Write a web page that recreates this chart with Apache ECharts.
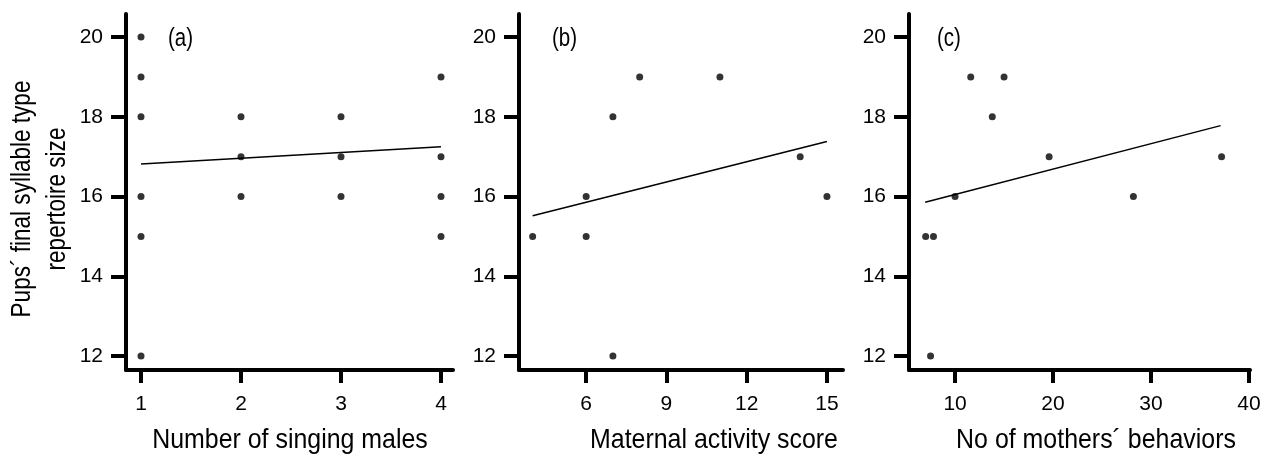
<!DOCTYPE html>
<html>
<head>
<meta charset="utf-8">
<script src="https://cdn.jsdelivr.net/npm/echarts@6/dist/echarts.min.js"></script>
<style>html,body{margin:0;padding:0;background:#fff}#c{width:1274px;height:458px}</style>
</head>
<body>
<div id="c"></div>
<script>
// ---- data ----
const yTicks = [12, 14, 16, 18, 20];
const aTicks = [1, 2, 3, 4];
const bTicks = [6, 9, 12, 15];
const cTicks = [10, 20, 30, 40];

const aX = [1, 1, 1, 1, 1, 1, 2, 2, 2, 3, 3, 3, 4, 4, 4, 4];
const aY = [20, 19, 18, 16, 15, 12, 18, 17, 16, 18, 17, 16, 19, 17, 16, 15];
const aFitX = [1, 4];
const aFitY = [16.82, 17.25];

const bX = [4, 6, 6, 7, 7, 8, 11, 14, 15];
const bY = [15, 16, 15, 18, 12, 19, 19, 17, 16];
const bFitX = [4, 15];
const bFitY = [15.52, 17.38];

const cX = [7, 7.8, 7.5, 10, 11.6, 13.8, 15, 19.6, 28.2, 37.2];
const cY = [15, 15, 12, 16, 19, 18, 19, 17, 16, 17];
const cFitX = [6.95, 37.1];
const cFitY = [15.86, 17.78];

const xNames = ['Number of singing males', 'Maternal activity score', 'No of mothers\u00b4 behaviors'];
const panelLabels = ['(a)', '(b)', '(c)'];
const yNameLines = ['Pups\u00b4 final syllable type', 'repertoire size'];

// ---- chart ----
const FONT = '"Liberation Sans", Arial, sans-serif';
const NARROW = 0.82;
const zip = (xs, ys) => xs.map((x, i) => [x, ys[i]]);

const grids = [
  { left: 126, top: 14, width: 327, height: 356 },
  { left: 519, top: 14, width: 324, height: 356 },
  { left: 909, top: 14, width: 341, height: 356 }
];
const xRanges = [[0.85, 4.12], [3.49, 15.6], [5.3, 40.1]];
const xTickSets = [aTicks, bTicks, cTicks];

const axisLine = { show: true, lineStyle: { color: '#000', width: 4 } };

const xAxis = grids.map((g, i) => ({
  type: 'value', gridIndex: i, min: xRanges[i][0], max: xRanges[i][1],
  axisLine: axisLine,
  axisTick: { show: true, length: 13, lineStyle: { color: '#000', width: 4 }, customValues: xTickSets[i] },
  axisLabel: { customValues: xTickSets[i], color: '#000', fontFamily: FONT, fontSize: 21, margin: 24 },
  splitLine: { show: false }
}));
const yAxis = grids.map((g, i) => ({
  type: 'value', gridIndex: i, min: 11.65, max: 20.58,
  axisLine: axisLine,
  axisTick: { show: true, length: 15, lineStyle: { color: '#000', width: 4 }, customValues: yTicks },
  axisLabel: { customValues: yTicks, color: '#000', fontFamily: FONT, fontSize: 21, margin: 23 },
  splitLine: { show: false }
}));

const scatters = [zip(aX, aY), zip(bX, bY), zip(cX, cY)];
const fits = [zip(aFitX, aFitY), zip(bFitX, bFitY), zip(cFitX, cFitY)];
const series = [];
scatters.forEach((d, i) => {
  series.push({ type: 'line', xAxisIndex: i, yAxisIndex: i, data: fits[i], symbol: 'none',
    lineStyle: { color: '#000', width: 1.5 }, silent: true, animation: false });
  series.push({ type: 'scatter', xAxisIndex: i, yAxisIndex: i, data: d, symbolSize: 7,
    itemStyle: { color: '#000' }, silent: true, animation: false });
});

const nameCenters = [290, 714, 1096];
const labelPos = [[168, 39], [552, 39], [937, 39]];
const graphic = [];
xNames.forEach((t, i) => graphic.push({ type: 'text', x: nameCenters[i], y: 440, scaleX: 0.89,
  style: { text: t, font: '28px ' + FONT, fill: '#000', textAlign: 'center', textVerticalAlign: 'middle' } }));
panelLabels.forEach((t, i) => graphic.push({ type: 'text', x: labelPos[i][0], y: labelPos[i][1], scaleX: NARROW,
  style: { text: t, font: '25px ' + FONT, fill: '#000', textAlign: 'left', textVerticalAlign: 'middle' } }));
graphic.push({ type: 'text', x: 22, y: 199, rotation: Math.PI / 2, scaleX: NARROW,
  style: { text: yNameLines[0], font: '27.5px ' + FONT, fill: '#000', textAlign: 'center', textVerticalAlign: 'middle' } });
graphic.push({ type: 'text', x: 57, y: 199, rotation: Math.PI / 2, scaleX: NARROW,
  style: { text: yNameLines[1], font: '27.5px ' + FONT, fill: '#000', textAlign: 'center', textVerticalAlign: 'middle' } });

const chart = echarts.init(document.getElementById('c'), null, { renderer: 'canvas' });
chart.setOption({ animation: false, backgroundColor: '#fff', grid: grids, xAxis, yAxis, series, graphic });
</script>
</body>
</html>
